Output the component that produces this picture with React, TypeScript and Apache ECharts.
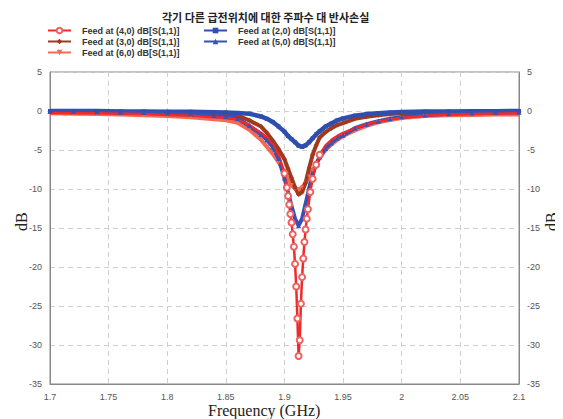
import React, { useEffect, useRef } from "react";
import * as echarts from "echarts";

// Frequency grid (GHz) shared by four of the series
const freq = [
  1.7, 1.72, 1.74, 1.76, 1.78, 1.8, 1.82, 1.84, 1.85, 1.86, 1.87, 1.88, 1.885, 1.89, 1.895,
  1.9, 1.903, 1.906, 1.909, 1.912, 1.915, 1.918, 1.921, 1.924, 1.927, 1.93, 1.935, 1.94,
  1.945, 1.95, 1.96, 1.97, 1.98, 1.99, 2.0, 2.02, 2.04, 2.06, 2.08, 2.1,
];

const feed20 = [
  0.0, 0.0, 0.0, -0.05, -0.05, -0.1, -0.1, -0.15, -0.2, -0.25, -0.35, -0.7, -1.0, -1.4, -2.0,
  -2.65, -3.2, -3.6, -4.0, -4.45, -4.6, -4.4, -4.0, -3.5, -3.0, -2.6, -2.0, -1.6,
  -1.2, -0.95, -0.6, -0.4, -0.3, -0.2, -0.12, -0.08, -0.05, -0.03, -0.02, 0.0,
];

const feed30 = [
  -0.05, -0.05, -0.1, -0.1, -0.15, -0.2, -0.3, -0.4, -0.45, -0.6, -1.2, -2.0, -2.8, -3.8, -4.9,
  -6.2, -7.4, -8.6, -9.8, -10.7, -10.4, -9.2, -7.3, -5.6, -4.4, -3.4, -2.7, -2.2,
  -1.8, -1.55, -1.0, -0.75, -0.55, -0.4, -0.3, -0.2, -0.15, -0.1, -0.1, -0.1,
];

const feed60 = [
  -0.3, -0.35, -0.4, -0.45, -0.55, -0.65, -0.8, -1.05, -1.2, -1.5, -2.4, -3.7, -4.6, -5.5, -6.6,
  -7.8, -8.8, -9.5, -10.0, -10.1, -9.8, -9.2, -8.4, -7.6, -6.8, -6.0, -5.0, -4.3,
  -3.7, -3.2, -2.5, -1.9, -1.45, -1.15, -0.9, -0.65, -0.55, -0.5, -0.45, -0.45,
];

const feed50 = [
  -0.05, -0.05, -0.1, -0.15, -0.2, -0.3, -0.4, -0.6, -0.75, -1.0, -1.9, -3.0, -3.7, -4.6, -6.1,
  -8.6, -10.4, -12.2, -13.8, -14.7, -13.8, -11.9, -9.9, -8.1, -6.8, -5.9, -4.8, -4.1,
  -3.5, -3.1, -2.2, -1.7, -1.3, -1.0, -0.75, -0.5, -0.35, -0.25, -0.2, -0.15,
];

// Finer frequency grid for the deep (4,0) resonance
const freq40 = [
  1.7, 1.72, 1.74, 1.76, 1.78, 1.8, 1.82, 1.84, 1.85, 1.86, 1.87, 1.88, 1.885, 1.89, 1.895,
  1.9, 1.902, 1.903, 1.904, 1.905, 1.906, 1.907, 1.908, 1.909, 1.91, 1.911, 1.912, 1.913,
  1.914, 1.915, 1.916, 1.917, 1.918, 1.919, 1.92, 1.922, 1.924, 1.927, 1.93, 1.935, 1.94,
  1.945, 1.95, 1.96, 1.97, 1.98, 1.99, 2.0, 2.02, 2.04, 2.06, 2.08, 2.1,
];

const feed40 = [
  -0.25, -0.3, -0.3, -0.35, -0.4, -0.5, -0.6, -0.8, -0.9, -1.1, -1.8, -2.8, -3.4, -4.2, -5.6,
  -8.0, -9.8, -10.9, -12.0, -13.2, -14.3, -15.8, -17.4, -19.6, -22.5, -26.6, -31.4, -29.4,
  -24.7, -21.3, -18.9, -16.8, -15.2, -13.8, -12.6, -10.4, -8.7, -6.9, -5.6, -4.4, -3.7,
  -3.2, -2.8, -2.2, -1.7, -1.35, -1.05, -0.85, -0.6, -0.45, -0.4, -0.35, -0.3,
];

const xTicks = [1.7, 1.75, 1.8, 1.85, 1.9, 1.95, 2.0, 2.05, 2.1];
const yTicks = [5, 0, -5, -10, -15, -20, -25, -30, -35];

const names = {
  f40: "Feed at (4,0) dB[S(1,1)]",
  f30: "Feed at (3,0) dB[S(1,1)]",
  f60: "Feed at (6,0) dB[S(1,1)]",
  f20: "Feed at (2,0) dB[S(1,1)]",
  f50: "Feed at (5,0) dB[S(1,1)]",
};

const zip = (xs: number[], ys: number[]) => xs.map((x, i) => [x, ys[i]]);

export default function App() {
  const ref = useRef<HTMLDivElement>(null);
  useEffect(() => {
    if (!ref.current) return;
    const chart = echarts.init(ref.current, null, { renderer: "svg" });
    const axisLabel = { color: "#555", fontSize: 9, fontFamily: "Liberation Sans" };
    const splitLine = { show: true, lineStyle: { color: "#cfcfcf", type: [5, 4] as any, width: 1 } };
    const yAxisBase = {
      type: "value" as const,
      min: -35,
      max: 5,
      interval: 5,
      axisLine: { show: true, lineStyle: { color: "#888" } },
      axisTick: { show: false },
      splitLine,
    };
    const legendText = {
      fontSize: 9,
      fontWeight: "bold" as const,
      color: "#333",
      fontFamily: "Liberation Sans",
      lineHeight: 11,
      height: 11,
      padding: [0, 0, 0, 6],
    };
    const legendBase = {
      orient: "vertical" as const,
      top: 25,
      padding: 0,
      itemWidth: 23,
      itemHeight: 7,
      itemGap: 0,
      textStyle: legendText,
    };
    chart.setOption({
      animation: false,
      backgroundColor: "#fff",
      title: {
        text: "각기 다른 급전위치에 대한 주파수 대 반사손실",
        left: 157,
        top: 6,
        textStyle: { fontSize: 11, fontWeight: "bold", color: "#222", fontFamily: "Noto Sans CJK KR" },
      },
      legend: [
        { ...legendBase, left: 47, data: [names.f40, names.f30, names.f60] },
        { ...legendBase, left: 203, data: [names.f20, names.f50] },
      ],
      grid: { left: 50, right: 44, top: 72, bottom: 35, show: true, borderColor: "#888", borderWidth: 1 },
      xAxis: {
        type: "value",
        min: 1.7,
        max: 2.1,
        interval: 0.05,
        axisLine: { show: true, onZero: false, lineStyle: { color: "#888" } },
        axisTick: { show: false },
        axisLabel: {
          ...axisLabel,
          margin: 8,
          formatter: (v: number) => {
            const t = xTicks.find((k) => Math.abs(k - v) < 1e-6);
            return t === undefined ? "" : String(t);
          },
        },
        splitLine,
      },
      yAxis: [
        {
          ...yAxisBase,
          position: "left",
          axisLabel: { ...axisLabel, margin: 8, formatter: (v: number) => (yTicks.includes(v) ? String(v) : "") },
        },
        {
          ...yAxisBase,
          position: "right",
          splitLine: { show: false },
          axisLabel: { ...axisLabel, margin: 8, formatter: (v: number) => (yTicks.includes(v) ? String(v) : "") },
        },
      ],
      graphic: [
        {
          type: "text",
          left: 208,
          top: 402,
          style: { text: "Frequency (GHz)", fontSize: 16, fontFamily: "Liberation Serif", fill: "#222" },
        },
        {
          type: "text",
          x: 13,
          y: 231,
          rotation: Math.PI / 2,
          style: { text: "dB", fontSize: 16, fontFamily: "Liberation Serif", fill: "#222" },
        },
        {
          type: "text",
          x: 543,
          y: 231,
          rotation: Math.PI / 2,
          style: { text: "dB", fontSize: 16, fontFamily: "Liberation Serif", fill: "#222" },
        },
      ],
      series: [
        {
          name: names.f60,
          type: "line",
          data: zip(freq, feed60),
          color: "#f36a55",
          lineStyle: { width: 4, color: "#f36a55" },
          symbol: "triangle",
          symbolRotate: 180,
          symbolSize: 4,
          itemStyle: { color: "#f36a55" },
        },
        {
          name: names.f30,
          type: "line",
          data: zip(freq, feed30),
          color: "#a1391f",
          lineStyle: { width: 4, color: "#a1391f" },
          symbol: "diamond",
          symbolSize: 5,
          itemStyle: { color: "#a1391f" },
        },
        {
          name: names.f20,
          type: "line",
          data: zip(freq, feed20),
          color: "#2e4fae",
          lineStyle: { width: 4.5, color: "#2e4fae" },
          symbol: "rect",
          symbolSize: 4,
          itemStyle: { color: "#2e4fae" },
        },
        {
          name: names.f50,
          type: "line",
          data: zip(freq, feed50),
          color: "#3552b5",
          lineStyle: { width: 4, color: "#3552b5" },
          symbol: "triangle",
          symbolSize: 5,
          itemStyle: { color: "#3552b5" },
        },
        {
          name: names.f40,
          type: "line",
          data: zip(freq40, feed40).map(([x, y]) => ({
            value: [x, y],
            symbolSize: x >= 1.9 && x <= 1.93 ? 6 : 0,
          })),
          color: "#ee2a2a",
          lineStyle: { width: 2.5, color: "#ee2a2a" },
          symbol: "emptyCircle",
          symbolSize: 6,
          itemStyle: { color: "#f06060", borderColor: "#ee3b3b", borderWidth: 1 },
        },
      ],
    });
    return () => chart.dispose();
  }, []);
  return <div ref={ref} style={{ width: 563, height: 419, marginLeft: -8, marginTop: -8 }} />;
}
